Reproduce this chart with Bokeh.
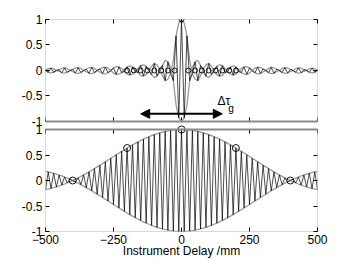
from bokeh.plotting import figure
from bokeh.models import (Range1d, LinearAxis, FixedTicker, Arrow, NormalHead,
                          CustomJSTickFormatter, BoxAnnotation, Label, Span)
from bokeh.embed import file_html
from bokeh.resources import INLINE

# ---------------- data ----------------
# delay samples (mm), one half of the symmetric curves, every 10 mm
delay_half = list(range(0, 510, 10))

# broadband CCF envelope (signed), delay 0..500 mm
broadband_env_half = [
    1.00, 0.93, 0.68, 0.20, -0.06, -0.17, -0.20, -0.10, 0.03, 0.11,
    0.14, 0.08, 0.00, -0.08, -0.11, -0.10, -0.04, 0.02, 0.07, 0.09,
    0.07, 0.02, -0.04, -0.07, -0.075, -0.05, 0.00, 0.045, 0.065, 0.06,
    0.03, 0.00, -0.04, -0.06, -0.055, -0.025, 0.00, 0.04, 0.055, 0.05,
    0.02, 0.00, -0.035, -0.05, -0.045, -0.015, 0.00, 0.035, 0.045, 0.035,
    0.01,
]

# narrowband CCF envelope (signed), delay 0..500 mm
narrowband_env_half = [
    1.000, 0.999, 0.996, 0.991, 0.984, 0.975, 0.963, 0.950, 0.935, 0.919,
    0.900, 0.880, 0.858, 0.835, 0.810, 0.784, 0.757, 0.728, 0.699, 0.668,
    0.637, 0.604, 0.572, 0.538, 0.505, 0.471, 0.436, 0.402, 0.368, 0.334,
    0.300, 0.267, 0.234, 0.202, 0.170, 0.139, 0.109, 0.080, 0.052, 0.026,
    0.000, -0.024, -0.047, -0.069, -0.089, -0.108, -0.126, -0.142, -0.156, -0.169,
    -0.180,
]

# marked points
bb_marker_x = [-200, -175, -150, -125, -100, -75, -50, -25, 0,
               25, 50, 75, 100, 125, 150, 175, 200]
bb_marker_y = [0, 0, 0, 0, 0, 0, 0, 0, 1,
               0, 0, 0, 0, 0, 0, 0, 0]
nb_marker_x = [-400, -200, 0, 200, 400]
nb_marker_y = [0.0, 0.637, 1.0, 0.637, 0.0]

# group-delay arrow and its label
arrow_x = [-150, 150]
arrow_y = -0.85
label_x = 132
label_y = -0.60

x_ticks = [-500, -250, 0, 250, 500]
y_ticks = [-1, -0.5, 0, 0.5, 1]

# ---------------- layout constants ----------------
S = 2.157           # vertical offset of the upper panel (data units)
FONT = "Liberation Sans"
GRAY = "#9a9a9a"
TICK = 0.08         # inward tick length for the inner panel edges (data units)

# ---------------- build the symmetric curves ----------------
delay = [-d for d in reversed(delay_half[1:])] + delay_half


def mirror(vals):
    return list(reversed(vals[1:])) + list(vals)


bb_env = mirror(broadband_env_half)
nb_env = mirror(narrowband_env_half)
sign = [1 if (d // 10) % 2 == 0 else -1 for d in delay]
bb_fringe = [e * s for e, s in zip(bb_env, sign)]
nb_fringe = [e * s for e, s in zip(nb_env, sign)]

p = figure(width=340, height=261, output_backend="svg", toolbar_location=None,
           x_range=Range1d(-500, 500), y_range=Range1d(-1, 1 + S),
           min_border_left=45, min_border_right=23, min_border_top=19, min_border_bottom=30,
           x_axis_location=None, y_axis_location=None)
p.grid.visible = False
p.outline_line_color = None
p.background_fill_color = "white"
p.border_fill_color = "white"

all_y_ticks = y_ticks + [t + S for t in y_ticks]


def make_axis(ticks, labelled):
    ax = LinearAxis()
    ax.ticker = FixedTicker(ticks=ticks)
    ax.major_tick_in = 4
    ax.major_tick_out = 0
    ax.minor_tick_line_color = None
    ax.axis_line_color = None
    ax.major_tick_line_color = "black"
    ax.major_label_text_font = FONT
    ax.major_label_text_font_size = "12px"
    ax.major_label_text_color = "black"
    ax.axis_label_text_font = FONT
    ax.axis_label_text_font_size = "12px"
    ax.axis_label_text_font_style = "normal"
    ax.axis_label_text_color = "black"
    if not labelled:
        ax.formatter = CustomJSTickFormatter(code="return ''")
        ax.major_label_standoff = 0
    return ax


left = make_axis(all_y_ticks, True)
left.formatter = CustomJSTickFormatter(args=dict(S=S), code="""
    const v = tick > 1.05 ? tick - S : tick;
    return String(Math.round(v * 10) / 10);
""")
left.major_label_standoff = 3
p.add_layout(left, "left")
p.add_layout(make_axis(all_y_ticks, False), "right")

below = make_axis(x_ticks, True)
below.major_label_standoff = 3
below.axis_label = "Instrument Delay /mm"
below.axis_label_standoff = -3
p.add_layout(below, "below")
p.add_layout(make_axis(x_ticks, False), "above")

# panel boxes
for off in (0, S):
    p.add_layout(BoxAnnotation(left=-500, right=500, bottom=-1 + off, top=1 + off,
                               fill_color=None, line_color="black", line_width=1))
# the grey-looking inner edges of the two panels
p.add_layout(Span(location=S - 1, dimension="width", line_color="#8a8a8a", line_width=2))
p.add_layout(Span(location=1, dimension="width", line_color="#8a8a8a", line_width=2))

# inward x ticks on the inner panel edges
p.segment(x0=x_ticks, y0=[S - 1] * len(x_ticks), x1=x_ticks, y1=[S - 1 + TICK] * len(x_ticks),
          line_color="black", line_width=1)
p.segment(x0=x_ticks, y0=[1] * len(x_ticks), x1=x_ticks, y1=[1 - TICK] * len(x_ticks),
          line_color="black", line_width=1)

# ---------- upper panel: broadband ----------
p.line(delay, [e + S for e in bb_env], line_color=GRAY, line_width=1.3)
p.line(delay, [-e + S for e in bb_env], line_color=GRAY, line_width=1.3)
p.line(delay, [f + S for f in bb_fringe], line_color="black", line_width=0.7)
p.scatter(bb_marker_x, [y + S for y in bb_marker_y], size=5, marker="circle", fill_color=None,
          line_color="black", line_width=0.9)
p.add_layout(Arrow(start=NormalHead(size=9, fill_color="black", line_color="black"),
                   end=NormalHead(size=9, fill_color="black", line_color="black"),
                   x_start=arrow_x[0], x_end=arrow_x[1], y_start=arrow_y + S, y_end=arrow_y + S,
                   line_color="black", line_width=2))
p.add_layout(Label(x=label_x, y=label_y + S, text="Δτ", text_font=FONT, text_font_size="12px",
                   text_baseline="middle", text_align="left", text_color="black"))
p.add_layout(Label(x=label_x + 40, y=label_y + S - 0.15, text="g", text_font=FONT,
                   text_font_size="10px", text_baseline="middle", text_align="left",
                   text_color="black"))

# ---------- lower panel: narrowband ----------
p.line(delay, nb_env, line_color=GRAY, line_width=1.3)
p.line(delay, [-e for e in nb_env], line_color=GRAY, line_width=1.3)
p.line(delay, nb_fringe, line_color="black", line_width=0.7)
p.scatter(nb_marker_x, nb_marker_y, size=7, marker="circle", fill_color=None,
          line_color="black", line_width=0.9)

# y-axis titles of the two panels
YLAB_X = -632
p.add_layout(Label(x=YLAB_X, y=S, text="Broadband CCF", angle=90, angle_units="deg",
                   text_font=FONT, text_font_size="12px", text_align="center",
                   text_baseline="middle", text_color="black"))
p.add_layout(Label(x=YLAB_X, y=0, text="Narrowband CCF", angle=90, angle_units="deg",
                   text_font=FONT, text_font_size="12px", text_align="center",
                   text_baseline="middle", text_color="black"))

open("out.html", "w").write(file_html(p, INLINE))
